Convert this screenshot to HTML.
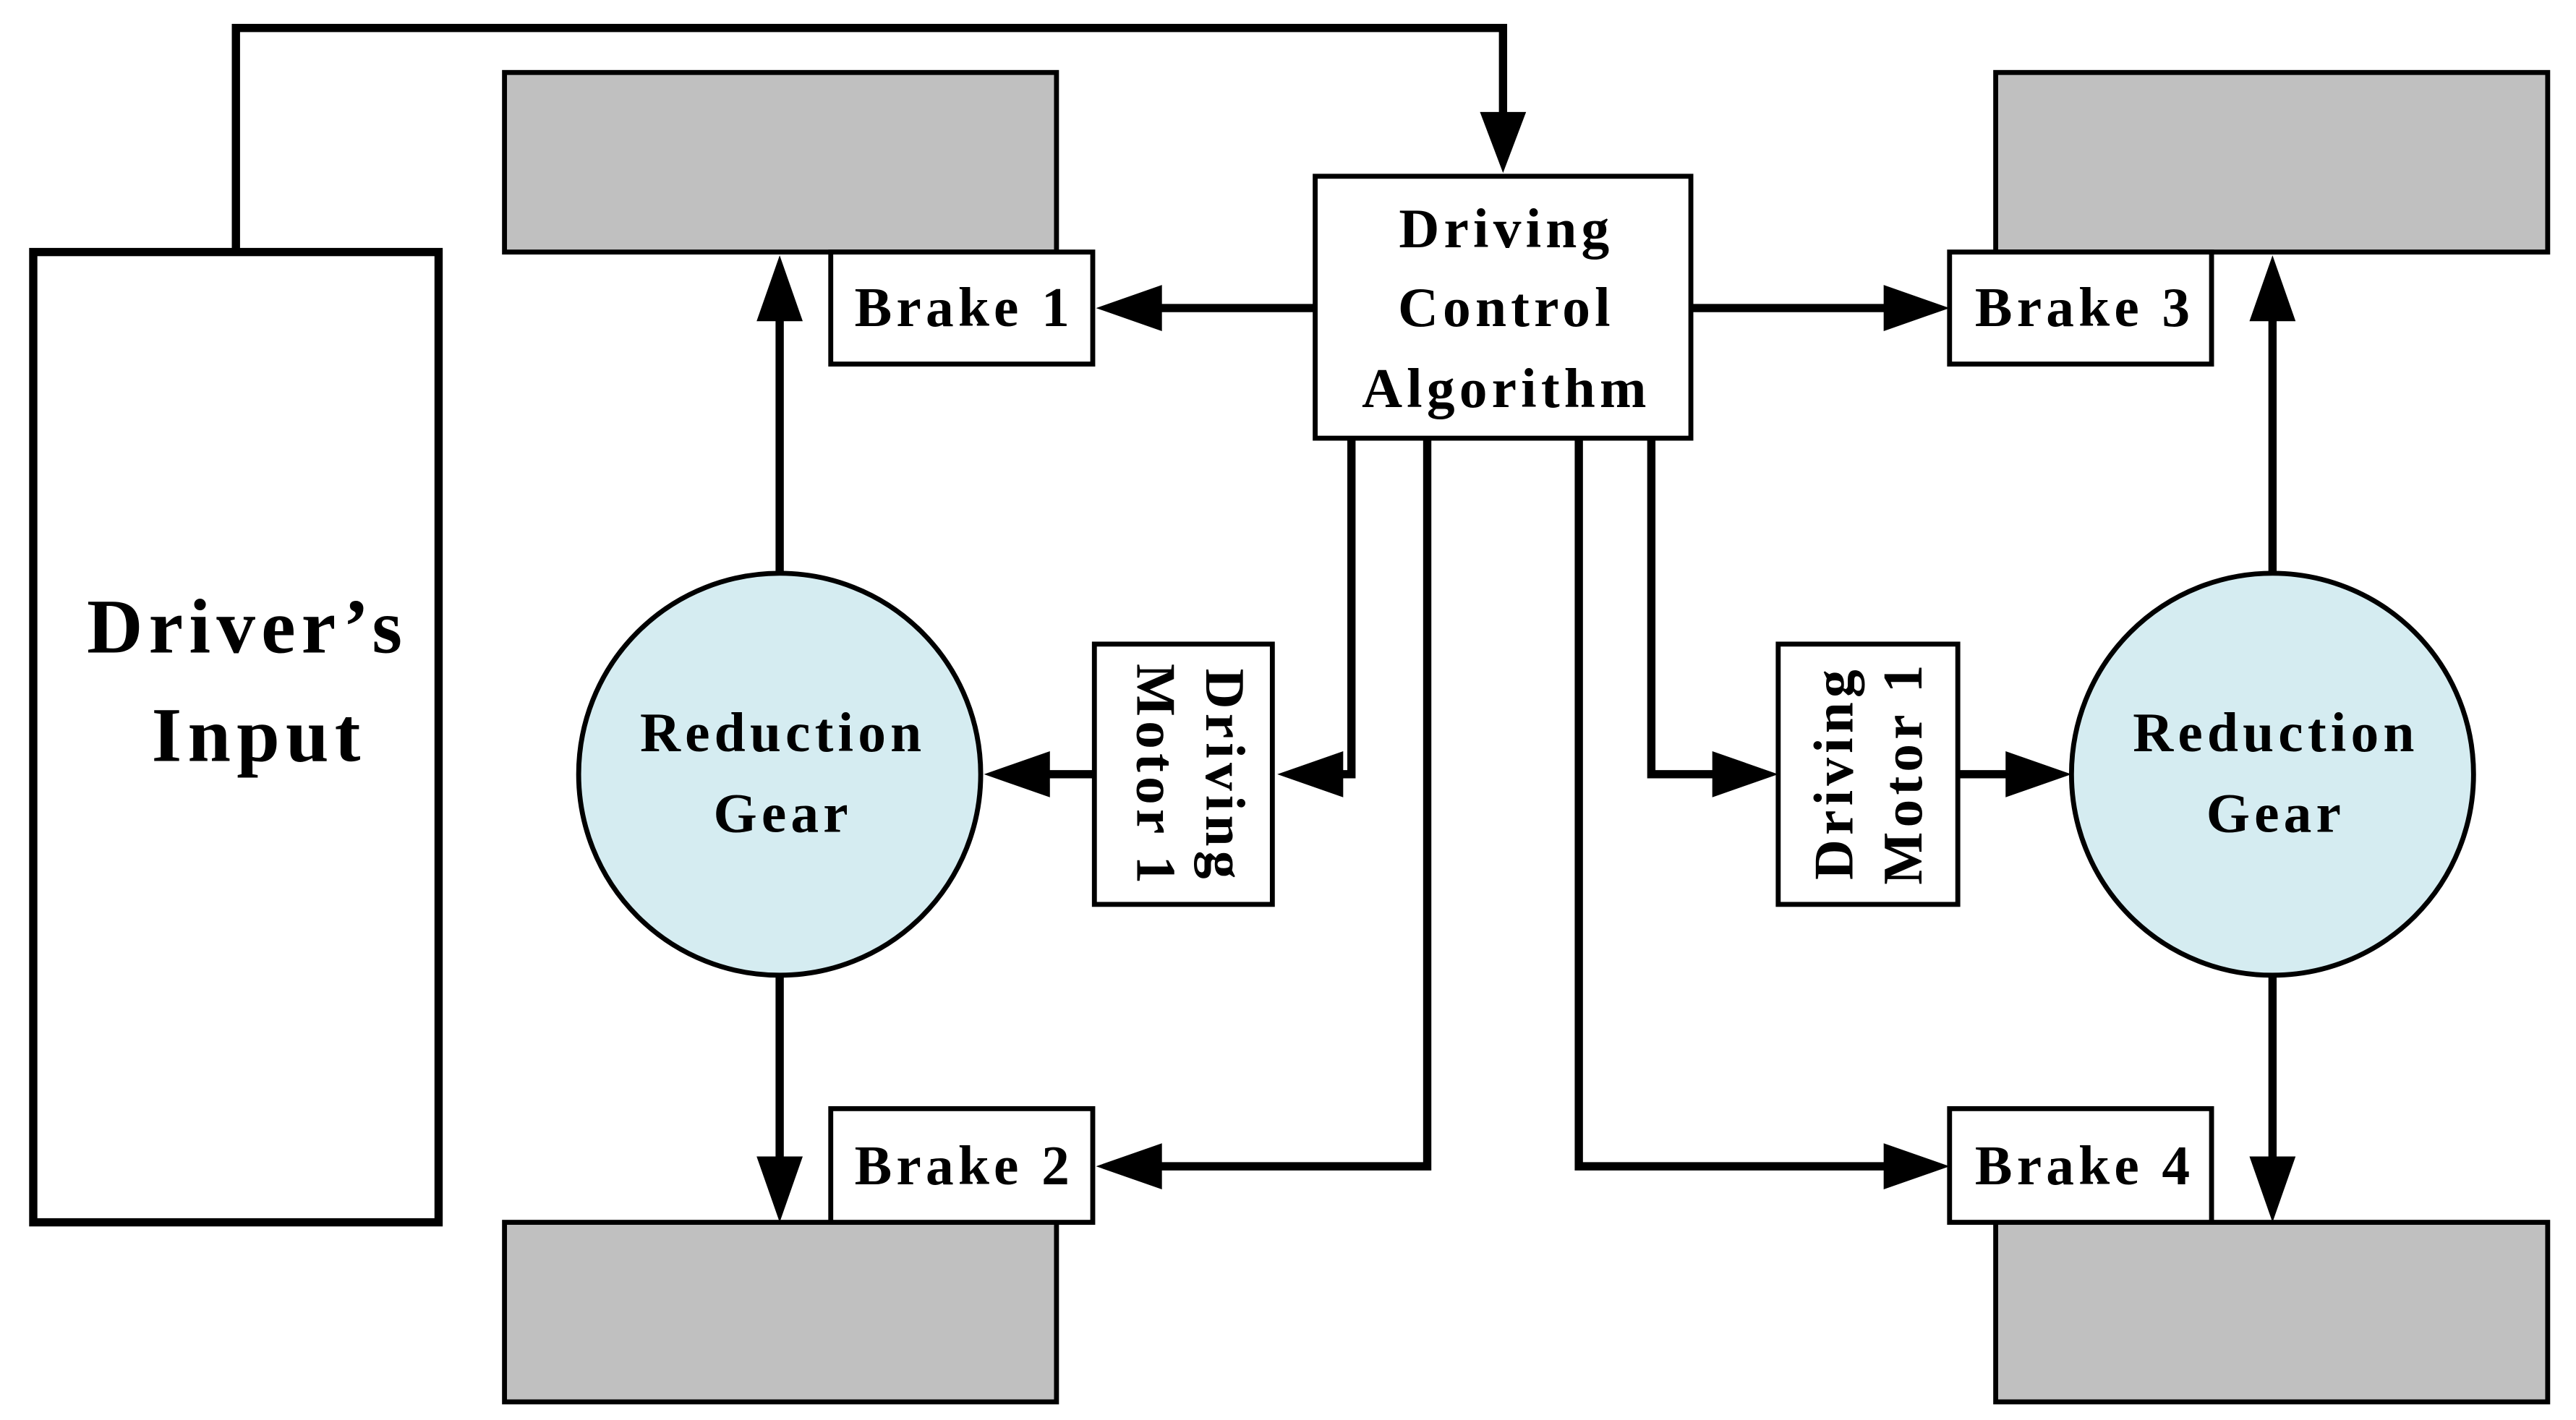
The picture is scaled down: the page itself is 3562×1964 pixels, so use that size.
<!DOCTYPE html>
<html><head><meta charset="utf-8"><style>html,body{margin:0;padding:0;background:#fff}svg{display:block}</style></head>
<body>
<svg width="3562" height="1964" viewBox="0 0 1563 862" xmlns="http://www.w3.org/2000/svg">
<style>
text{font-family:"Liberation Serif",serif;font-weight:bold;fill:#000;letter-spacing:2.7px}
.big{letter-spacing:3.6px}
.ln{stroke:#000;stroke-width:5;fill:none}
.bx{stroke:#000;stroke-width:3;fill:#fff}
.wh{stroke:#000;stroke-width:3;fill:#c0c0c0}
</style>
<!-- Driver's input -->
<rect x="20" y="153" width="246" height="589" fill="#fff" stroke="#000" stroke-width="5"/>
<text class="big" x="150" y="396" font-size="47" text-anchor="middle">Driver’s</text>
<text class="big" x="157" y="462" font-size="47" text-anchor="middle">Input</text>
<polyline class="ln" points="143,153 143,17 912,17 912,72"/>
<polygon points="898,68 926,68 912,105"/>
<!-- wheels -->
<rect class="wh" x="306" y="44" width="335" height="109"/>
<rect class="wh" x="1211" y="44" width="335" height="109"/>
<rect class="wh" x="306" y="742" width="335" height="109"/>
<rect class="wh" x="1211" y="742" width="335" height="109"/>
<!-- brakes -->
<rect class="bx" x="504" y="153" width="159" height="68"/>
<text x="585" y="198" font-size="34" text-anchor="middle">Brake 1</text>
<rect class="bx" x="1183" y="153" width="159" height="68"/>
<text x="1265" y="198" font-size="34" text-anchor="middle">Brake 3</text>
<rect class="bx" x="504" y="673" width="159" height="69"/>
<text x="585" y="719" font-size="34" text-anchor="middle">Brake 2</text>
<rect class="bx" x="1183" y="673" width="159" height="69"/>
<text x="1265" y="719" font-size="34" text-anchor="middle">Brake 4</text>
<!-- control -->
<rect class="bx" x="798" y="107" width="228" height="159"/>
<text x="914" y="150" font-size="34" text-anchor="middle">Driving</text>
<text x="914" y="198" font-size="34" text-anchor="middle">Control</text>
<text x="914" y="247" font-size="34" text-anchor="middle">Algorithm</text>
<!-- circles -->
<circle cx="473" cy="470" r="122" fill="#d5ecf1" stroke="#000" stroke-width="3"/>
<text x="475" y="456" font-size="34" text-anchor="middle">Reduction</text>
<text x="475" y="505" font-size="34" text-anchor="middle">Gear</text>
<circle cx="1379" cy="470" r="122" fill="#d5ecf1" stroke="#000" stroke-width="3"/>
<text x="1381" y="456" font-size="34" text-anchor="middle">Reduction</text>
<text x="1381" y="505" font-size="34" text-anchor="middle">Gear</text>
<!-- motors -->
<rect class="bx" x="664" y="391" width="108" height="158"/>
<g transform="translate(718,470) rotate(90)">
<text x="1" y="-14" font-size="34" text-anchor="middle">Driving</text>
<text x="1" y="28" font-size="34" text-anchor="middle">Motor 1</text>
</g>
<rect class="bx" x="1079" y="391" width="109" height="158"/>
<g transform="translate(1134,470) rotate(-90)">
<text x="1" y="-10" font-size="34" text-anchor="middle">Driving</text>
<text x="1" y="32" font-size="34" text-anchor="middle">Motor 1</text>
</g>
<!-- arrows -->
<line class="ln" x1="798" y1="187" x2="700" y2="187"/>
<polygon points="665,187 705,173 705,201"/>
<line class="ln" x1="1026" y1="187" x2="1148" y2="187"/>
<polygon points="1183,187 1143,173 1143,201"/>
<line class="ln" x1="473" y1="348" x2="473" y2="190"/>
<polygon points="473,155 459,195 487,195"/>
<line class="ln" x1="473" y1="592" x2="473" y2="705"/>
<polygon points="473,742 459,702 487,702"/>
<line class="ln" x1="1379" y1="348" x2="1379" y2="190"/>
<polygon points="1379,155 1365,195 1393,195"/>
<line class="ln" x1="1379" y1="592" x2="1379" y2="705"/>
<polygon points="1379,742 1365,702 1393,702"/>
<polyline class="ln" points="820,266 820,470 810,470"/>
<polygon points="775,470 815,456 815,484"/>
<line class="ln" x1="664" y1="470" x2="632" y2="470"/>
<polygon points="597,470 637,456 637,484"/>
<polyline class="ln" points="866,266 866,708 700,708"/>
<polygon points="665,708 705,694 705,722"/>
<polyline class="ln" points="958,266 958,708 1148,708"/>
<polygon points="1183,708 1143,694 1143,722"/>
<polyline class="ln" points="1002,266 1002,470 1044,470"/>
<polygon points="1079,470 1039,456 1039,484"/>
<line class="ln" x1="1188" y1="470" x2="1222" y2="470"/>
<polygon points="1257,470 1217,456 1217,484"/>
</svg>
</body></html>
